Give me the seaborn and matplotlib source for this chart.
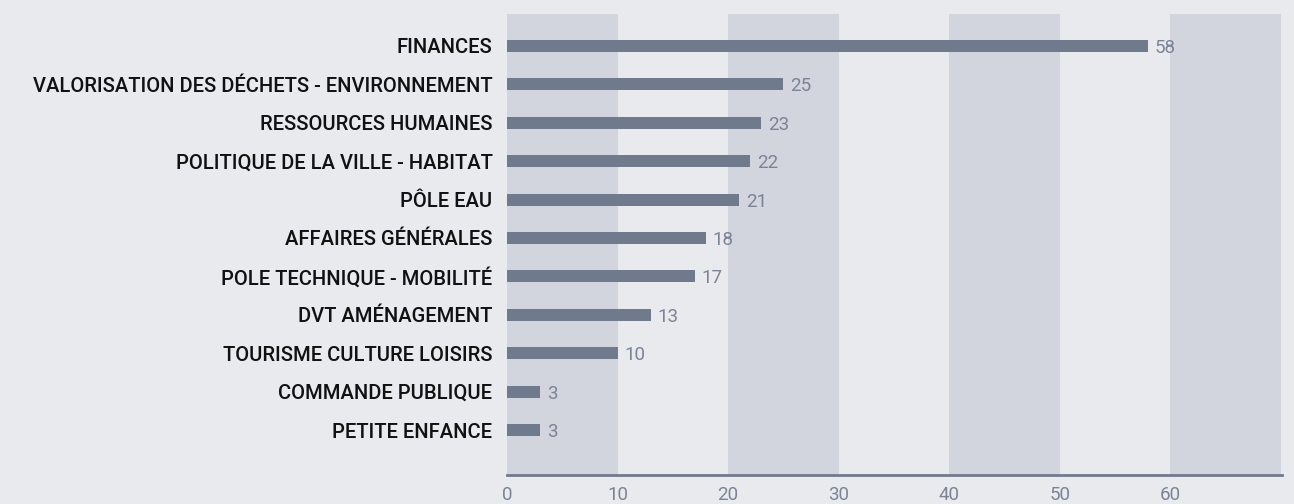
import matplotlib
matplotlib.use("Agg")
import matplotlib.pyplot as plt
import seaborn as sns
import pandas as pd

categories = [
    "FINANCES",
    "VALORISATION DES DÉCHETS - ENVIRONNEMENT",
    "RESSOURCES HUMAINES",
    "POLITIQUE DE LA VILLE - HABITAT",
    "PÔLE EAU",
    "AFFAIRES GÉNÉRALES",
    "POLE TECHNIQUE - MOBILITÉ",
    "DVT AMÉNAGEMENT",
    "TOURISME CULTURE LOISIRS",
    "COMMANDE PUBLIQUE",
    "PETITE ENFANCE",
]
values = [58, 25, 23, 22, 21, 18, 17, 13, 10, 3, 3]
x_ticks = [0, 10, 20, 30, 40, 50, 60]

BG = "#e9eaee"
BAND = "#d2d5dd"
BAR = "#6f7a8d"
VAL = "#7b8396"

sns.set_theme(style="white")
plt.rcParams["font.family"] = ["Roboto", "DejaVu Sans"]

df = pd.DataFrame({"cat": categories, "val": values})

fig = plt.figure(figsize=(12.94, 5.04), dpi=100, facecolor=BG)
ax = fig.add_axes([507/1294, 1 - 475/504, (1282-507)/1294, (475-14)/504])
ax.set_facecolor(BG)

for start in range(0, 70, 20):
    ax.axvspan(start, start + 10, color=BAND, lw=0, zorder=0)

sns.barplot(data=df, y="cat", x="val", orient="h", color=BAR, width=0.31,
            saturation=1, linewidth=0, edgecolor=BAR, ax=ax, zorder=2)

for i, v in enumerate(values):
    ax.text(v + 0.6, i, str(v), va="center_baseline", ha="left", color=VAL,
            fontsize=13.5, zorder=3)

ax.set_xlim(0, 70.1)
ax.set_ylim(11.17, -0.83)
ax.set_xticks(x_ticks)
ax.set_xticklabels([str(t) for t in x_ticks], color=VAL, fontsize=13.5)
ax.tick_params(axis="x", length=0, pad=8)
ax.tick_params(axis="y", length=0, pad=10.5, labelsize=14.5, labelcolor="#111111")
for lab in ax.get_yticklabels():
    lab.set_fontweight("medium")
ax.set_xlabel("")
ax.set_ylabel("")
for s in ["top", "right", "left"]:
    ax.spines[s].set_visible(False)
ax.spines["bottom"].set_color(BAR)
ax.spines["bottom"].set_linewidth(2)
ax.spines["bottom"].set_zorder(4)

fig.savefig("out.png", dpi=100, facecolor=BG)
